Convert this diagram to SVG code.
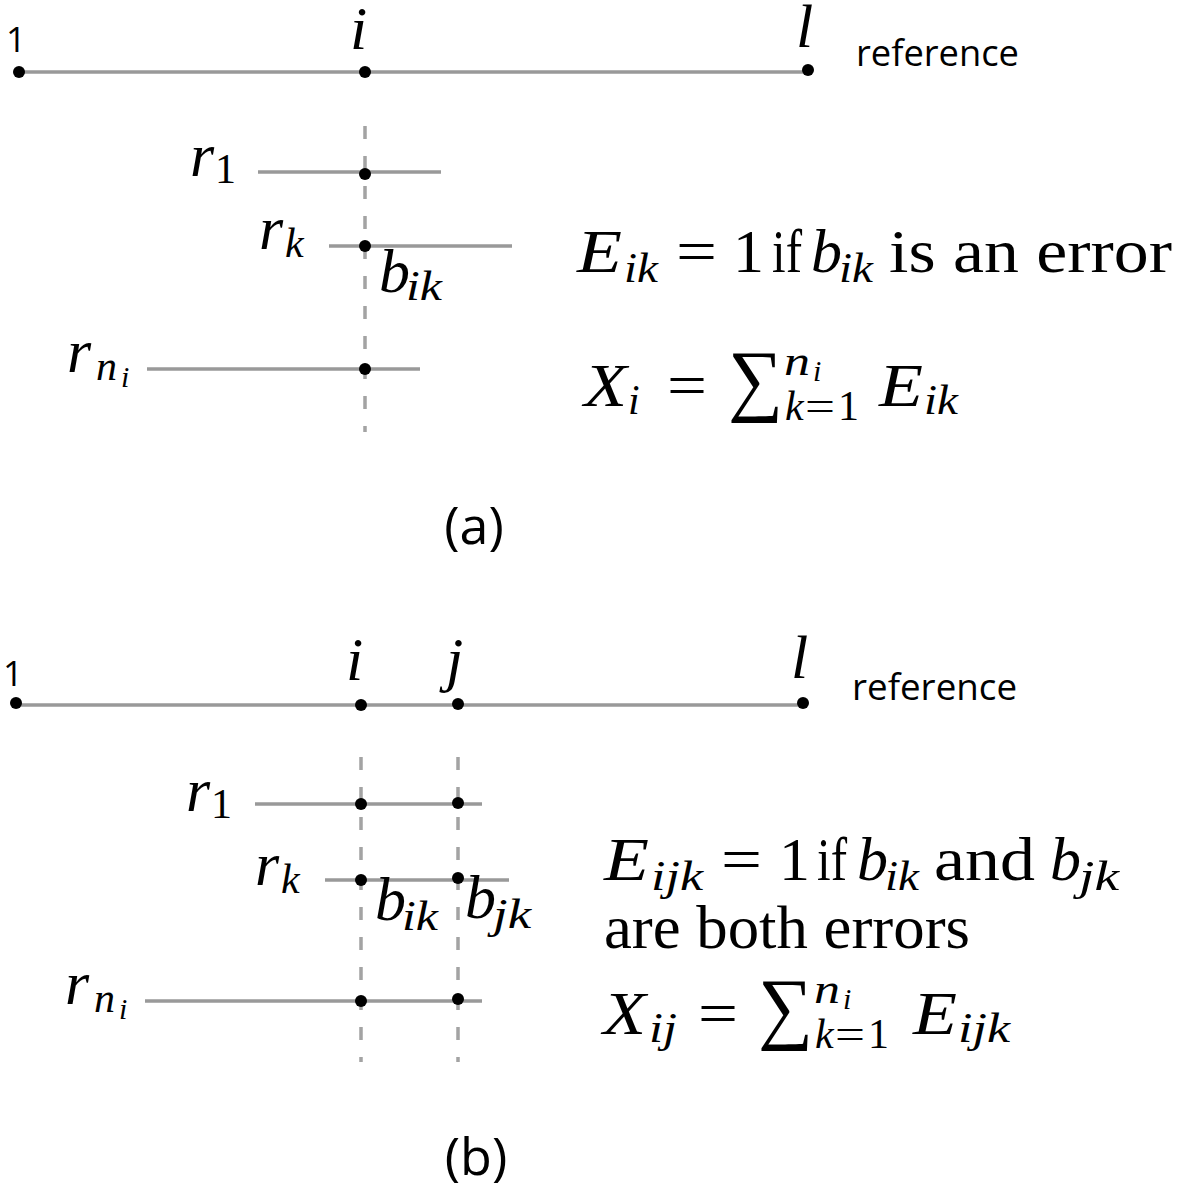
<svg xmlns="http://www.w3.org/2000/svg" width="1200" height="1192" viewBox="0 0 1200 1192">
<style>
.bg{fill:#fff}
.ln{stroke:#999;stroke-width:3.5;fill:none}
.dash{stroke:#a3a3a3;stroke-width:3.5;stroke-dasharray:13 17;fill:none}
.dot{fill:#000}
.mi{font-family:"Liberation Serif","Times New Roman",serif;font-style:italic;font-size:62px;fill:#000}
.mr{font-family:"Liberation Serif","Times New Roman",serif;font-size:62px;fill:#000}
.si{font-family:"Liberation Serif","Times New Roman",serif;font-style:italic;font-size:42px;fill:#000}
.sr{font-family:"Liberation Serif","Times New Roman",serif;font-size:42px;fill:#000}
.ssi{font-family:"Liberation Serif","Times New Roman",serif;font-style:italic;font-size:30px;fill:#000}
.sum{font-family:"Liberation Serif","Times New Roman",serif;font-size:80px;fill:#000}
.sans{font-family:"Open Sans","Liberation Sans",sans-serif;fill:#000}
</style>
<rect class="bg" x="0" y="0" width="1200" height="1192"/>

<!-- Panel (a) -->
<g id="a-connectors">
  <line class="ln" x1="19" y1="72" x2="808" y2="72"/>
  <line class="dash" x1="365" y1="126" x2="365" y2="432"/>
  <line class="ln" x1="258" y1="172" x2="441" y2="172"/>
  <line class="ln" x1="329" y1="246" x2="512" y2="246"/>
  <line class="ln" x1="147" y1="369" x2="420" y2="369"/>
</g>
<g id="a-ref-1"><circle class="dot" cx="19" cy="72" r="6"/><text class="sans" x="6" y="52" font-size="35">1</text></g>
<g id="a-ref-i"><circle class="dot" cx="365" cy="72" r="6"/><text class="mi" x="350" y="49">i</text></g>
<g id="a-ref-l"><circle class="dot" cx="808" cy="70" r="6"/><text class="mi" x="796" y="47">l</text></g>
<g id="a-ref-label"><text class="sans" x="856" y="66" font-size="36" textLength="163" lengthAdjust="spacingAndGlyphs">reference</text></g>
<g id="a-r1"><circle class="dot" cx="365" cy="174" r="6"/><text class="mi" x="190" y="176">r</text><text class="sr" x="215" y="183">1</text></g>
<g id="a-rk"><circle class="dot" cx="365" cy="246" r="6"/><text class="mi" x="259" y="249">r</text><text class="si" x="285" y="257">k</text></g>
<g id="a-bik"><text class="mi" x="379" y="292">b</text><text class="si" x="406" y="300" textLength="36" lengthAdjust="spacingAndGlyphs">ik</text></g>
<g id="a-rni"><circle class="dot" cx="365" cy="369" r="6"/><text class="mi" x="67" y="372">r</text><text class="si" x="96" y="380">n</text><text class="ssi" x="121" y="387">i</text></g>
<g id="a-eq1">
  <text class="mi" x="577" y="272" textLength="45" lengthAdjust="spacingAndGlyphs">E</text><text class="si" x="624" y="282" textLength="34" lengthAdjust="spacingAndGlyphs">ik</text>
  <text class="mr" x="676" y="272" textLength="41" lengthAdjust="spacingAndGlyphs">=</text>
  <text class="mr" x="733" y="272">1</text>
  <text class="mr" x="772" y="272" textLength="30" lengthAdjust="spacingAndGlyphs">if</text>
  <text class="mi" x="811" y="272">b</text><text class="si" x="839" y="282" textLength="34" lengthAdjust="spacingAndGlyphs">ik</text>
  <text class="mr" x="889" y="272" textLength="283" lengthAdjust="spacingAndGlyphs">is an error</text>
</g>
<g id="a-eq2">
  <text class="mi" x="584" y="406" textLength="43" lengthAdjust="spacingAndGlyphs">X</text><text class="si" x="628" y="414">i</text>
  <text class="mr" x="667" y="406" textLength="40" lengthAdjust="spacingAndGlyphs">=</text>
  <text class="sum" x="728" y="406" textLength="55" lengthAdjust="spacingAndGlyphs">∑</text>
  <text class="si" x="784" y="375" textLength="26" lengthAdjust="spacingAndGlyphs">n</text><text class="ssi" x="813" y="381">i</text>
  <text class="si" x="785" y="420">k</text><text class="sr" x="805" y="420" textLength="30" lengthAdjust="spacingAndGlyphs">=</text><text class="sr" x="838" y="420">1</text>
  <text class="mi" x="879" y="406" textLength="44" lengthAdjust="spacingAndGlyphs">E</text><text class="si" x="924" y="414" textLength="34" lengthAdjust="spacingAndGlyphs">ik</text>
</g>
<g id="a-caption"><text class="sans" x="474" y="544" font-size="52" text-anchor="middle">(a)</text></g>

<!-- Panel (b) -->
<g id="b-connectors">
  <line class="ln" x1="16" y1="705" x2="803" y2="705"/>
  <line class="dash" x1="361" y1="757" x2="361" y2="1062"/>
  <line class="dash" x1="458" y1="757" x2="458" y2="1062"/>
  <line class="ln" x1="255" y1="804" x2="482" y2="804"/>
  <line class="ln" x1="325" y1="880" x2="509" y2="880"/>
  <line class="ln" x1="145" y1="1001" x2="482" y2="1001"/>
</g>
<g id="b-ref-1"><circle class="dot" cx="16" cy="703" r="6"/><text class="sans" x="3" y="686" font-size="35">1</text></g>
<g id="b-ref-i"><circle class="dot" cx="361" cy="705" r="6"/><text class="mi" x="346" y="680">i</text></g>
<g id="b-ref-j"><circle class="dot" cx="458" cy="704" r="6"/><text class="mi" x="446" y="680">j</text></g>
<g id="b-ref-l"><circle class="dot" cx="803" cy="703" r="6"/><text class="mi" x="791" y="678">l</text></g>
<g id="b-ref-label"><text class="sans" x="852" y="700" font-size="36" textLength="165" lengthAdjust="spacingAndGlyphs">reference</text></g>
<g id="b-r1"><circle class="dot" cx="361" cy="804" r="6"/><circle class="dot" cx="458" cy="803" r="6"/><text class="mi" x="186" y="811">r</text><text class="sr" x="211" y="818">1</text></g>
<g id="b-rk"><circle class="dot" cx="361" cy="880" r="6"/><circle class="dot" cx="458" cy="878" r="6"/><text class="mi" x="255" y="885">r</text><text class="si" x="281" y="893">k</text></g>
<g id="b-bik"><text class="mi" x="375" y="920">b</text><text class="si" x="402" y="930" textLength="36" lengthAdjust="spacingAndGlyphs">ik</text></g>
<g id="b-bjk"><text class="mi" x="465" y="918">b</text><text class="si" x="493" y="928" textLength="38" lengthAdjust="spacingAndGlyphs">jk</text></g>
<g id="b-rni"><circle class="dot" cx="361" cy="1001" r="6"/><circle class="dot" cx="458" cy="999" r="6"/><text class="mi" x="65" y="1004">r</text><text class="si" x="94" y="1012">n</text><text class="ssi" x="119" y="1019">i</text></g>
<g id="b-eq1">
  <text class="mi" x="604" y="880" textLength="45" lengthAdjust="spacingAndGlyphs">E</text><text class="si" x="651" y="890" textLength="52" lengthAdjust="spacingAndGlyphs">ijk</text>
  <text class="mr" x="721" y="880" textLength="41" lengthAdjust="spacingAndGlyphs">=</text>
  <text class="mr" x="779" y="880">1</text>
  <text class="mr" x="817" y="880" textLength="30" lengthAdjust="spacingAndGlyphs">if</text>
  <text class="mi" x="857" y="880">b</text><text class="si" x="885" y="890" textLength="34" lengthAdjust="spacingAndGlyphs">ik</text>
  <text class="mr" x="934" y="880" textLength="101" lengthAdjust="spacingAndGlyphs">and</text>
  <text class="mi" x="1050" y="880">b</text><text class="si" x="1079" y="890" textLength="40" lengthAdjust="spacingAndGlyphs">jk</text>
</g>
<g id="b-eq2"><text class="mr" x="604" y="948" textLength="366" lengthAdjust="spacingAndGlyphs">are both errors</text></g>
<g id="b-eq3">
  <text class="mi" x="603" y="1034" textLength="43" lengthAdjust="spacingAndGlyphs">X</text><text class="si" x="649" y="1042" textLength="28" lengthAdjust="spacingAndGlyphs">ij</text>
  <text class="mr" x="698" y="1034" textLength="40" lengthAdjust="spacingAndGlyphs">=</text>
  <text class="sum" x="758" y="1034" textLength="55" lengthAdjust="spacingAndGlyphs">∑</text>
  <text class="si" x="814" y="1003" textLength="26" lengthAdjust="spacingAndGlyphs">n</text><text class="ssi" x="843" y="1009">i</text>
  <text class="si" x="815" y="1048">k</text><text class="sr" x="835" y="1048" textLength="30" lengthAdjust="spacingAndGlyphs">=</text><text class="sr" x="868" y="1048">1</text>
  <text class="mi" x="913" y="1034" textLength="44" lengthAdjust="spacingAndGlyphs">E</text><text class="si" x="958" y="1042" textLength="52" lengthAdjust="spacingAndGlyphs">ijk</text>
</g>
<g id="b-caption"><text class="sans" x="476" y="1175" font-size="52" text-anchor="middle">(b)</text></g>
</svg>
